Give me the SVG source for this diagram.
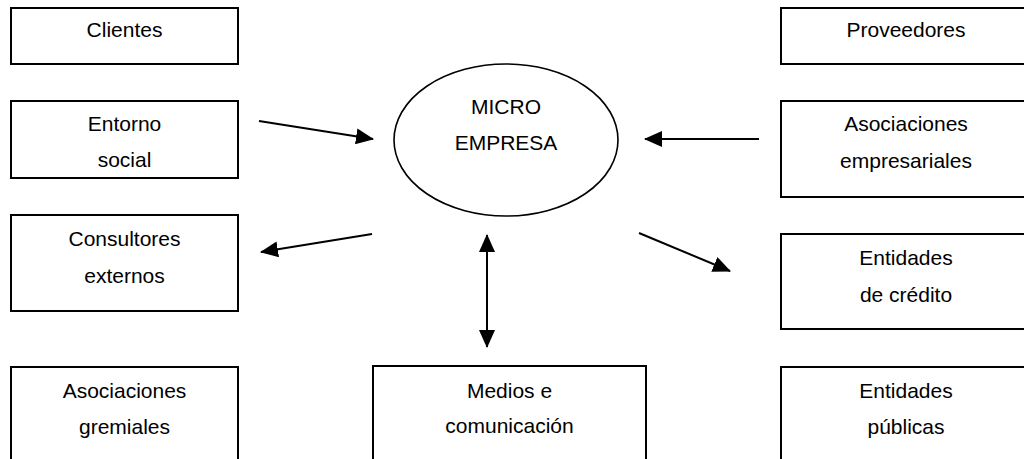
<svg xmlns="http://www.w3.org/2000/svg" width="1024" height="459" viewBox="0 0 1024 459">
<style>
.box{fill:#fff;stroke:#000;stroke-width:2}
.t{font-family:"Liberation Sans",Arial,sans-serif;font-size:21px;fill:#000;text-anchor:middle}
.conn{stroke:#000;stroke-width:2;fill:none}
</style>
<defs>
<marker id="ah" markerUnits="userSpaceOnUse" viewBox="0 0 18 16" markerWidth="18" markerHeight="16" refX="17" refY="8" orient="auto-start-reverse">
<path d="M0,0 L18,8 L0,16 z" fill="#000"/>
</marker>
</defs>
<rect width="1024" height="459" fill="#fff"/>
<g id="clientes"><rect class="box" x="11" y="8" width="227" height="56"/><text class="t" x="124.5" y="37">Clientes</text></g>
<g id="entorno"><rect class="box" x="11" y="101" width="227" height="77"/><text class="t" x="124.5" y="131">Entorno</text><text class="t" x="124.5" y="167">social</text></g>
<g id="consultores"><rect class="box" x="11" y="215" width="227" height="96"/><text class="t" x="124.5" y="246">Consultores</text><text class="t" x="124.5" y="283">externos</text></g>
<g id="gremiales"><rect class="box" x="11" y="367" width="227" height="110"/><text class="t" x="124.5" y="398">Asociaciones</text><text class="t" x="124.5" y="434">gremiales</text></g>
<g id="medios"><rect class="box" x="373" y="366" width="273" height="110"/><text class="t" x="509.5" y="398">Medios e</text><text class="t" x="509.5" y="433">comunicación</text></g>
<g id="proveedores"><rect class="box" x="781" y="8" width="250" height="56"/><text class="t" x="906" y="37">Proveedores</text></g>
<g id="empresariales"><rect class="box" x="781" y="101" width="250" height="96"/><text class="t" x="906" y="131">Asociaciones</text><text class="t" x="906" y="168">empresariales</text></g>
<g id="credito"><rect class="box" x="781" y="234" width="250" height="95"/><text class="t" x="906" y="265">Entidades</text><text class="t" x="906" y="302">de crédito</text></g>
<g id="publicas"><rect class="box" x="781" y="367" width="250" height="110"/><text class="t" x="906" y="398">Entidades</text><text class="t" x="906" y="434">públicas</text></g>
<g id="microempresa"><ellipse cx="506" cy="140" rx="112" ry="76" fill="#fff" stroke="#000" stroke-width="1.6"/><text class="t" x="506" y="114">MICRO</text><text class="t" x="506" y="150">EMPRESA</text></g>
<g id="connectors">
<line class="conn" x1="259" y1="121" x2="373" y2="139" marker-end="url(#ah)"/>
<line class="conn" x1="759" y1="139" x2="645" y2="139" marker-end="url(#ah)"/>
<line class="conn" x1="372" y1="234" x2="261" y2="252" marker-end="url(#ah)"/>
<line class="conn" x1="639" y1="233" x2="730" y2="271" marker-end="url(#ah)"/>
<line class="conn" x1="487" y1="235" x2="487" y2="347" marker-start="url(#ah)" marker-end="url(#ah)"/>
</g>
</svg>
